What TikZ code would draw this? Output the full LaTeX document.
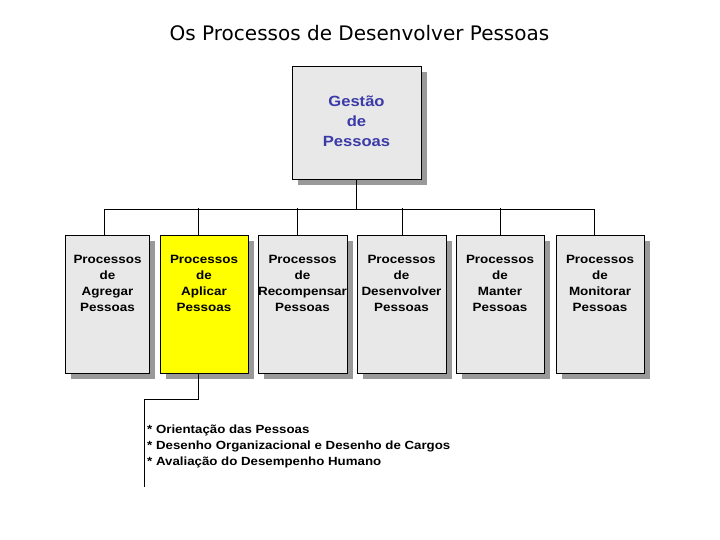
\documentclass[tikz,border=0pt]{standalone}
\usepackage{fontspec}
\setmainfont{Liberation Sans}
\newfontfamily\titlefont{DejaVu Sans}
\newfontfamily\boxfont[FakeStretch=1.12]{Liberation Sans}
\definecolor{boxgray}{HTML}{E8E8E8}
\definecolor{shadowgray}{HTML}{999999}
\definecolor{topblue}{HTML}{3B3BA8}
\definecolor{yel}{HTML}{FFFF00}
\tikzset{
  procbox/.style={draw=black, line width=0.9pt, fill=boxgray, minimum height=138pt, inner sep=0pt},
  shadowbox/.style={fill=shadowgray, draw=none, minimum height=138pt, inner sep=0pt},
  boxtext/.style={font=\boxfont\bfseries\fontsize{12}{16}\selectfont, align=center, anchor=north, inner sep=0pt},
  conn/.style={draw=black, line width=0.9pt},
  listtext/.style={font=\boxfont\bfseries\fontsize{11.85}{16}\selectfont, align=left, anchor=north west, inner sep=0pt}
}
\begin{document}
\begin{tikzpicture}[x=1pt,y=-1pt]
\useasboundingbox (0,0) rectangle (720,540);
% title
\node[font=\titlefont\fontsize{20}{24}\selectfont, inner sep=0pt] (title) at (359.5,33) {Os Processos de Desenvolver Pessoas};
% top box
\node[fill=shadowgray, minimum width=129pt, minimum height=113pt, inner sep=0pt] (topsh) at (362.5,128.5) {};
\node[draw=black, line width=0.9pt, fill=boxgray, minimum width=129pt, minimum height=113pt, inner sep=0pt] (top) at (356.5,122.5) {};
\node[font=\boxfont\bfseries\fontsize{14.8}{20}\selectfont, text=topblue, align=center, inner sep=0pt] (toptext) at (top.center) [yshift=1.5pt] {Gestão\\de\\Pessoas};
% bottom boxes: shadows
\foreach \cx/\w [count=\i] in {107.5/84, 204/88, 302.5/89, 401.5/89, 500/88, 600/88}{
  \node[shadowbox, minimum width=\w pt] (sh\i) at (\cx+5.5,304+5.5) {};
}
\node[procbox, minimum width=84pt] (b1) at (107.5,304) {};
\node[procbox, minimum width=88pt, fill=yel] (b2) at (204,304) {};
\node[procbox, minimum width=89pt] (b3) at (302.5,304) {};
\node[procbox, minimum width=89pt] (b4) at (401.5,304) {};
\node[procbox, minimum width=88pt] (b5) at (500,304) {};
\node[procbox, minimum width=88pt] (b6) at (600,304) {};
% texts
\node[boxtext] (t1) at ([yshift=-20pt]b1.north) {Processos\\de\\Agregar\\Pessoas};
\node[boxtext] (t2) at ([yshift=-20pt]b2.north) {Processos\\de\\Aplicar\\Pessoas};
\node[boxtext] (t3) at ([yshift=-20pt]b3.north) {Processos\\de\\Recompensar\\Pessoas};
\node[boxtext] (t4) at ([yshift=-20pt]b4.north) {Processos\\de\\Desenvolver\\Pessoas};
\node[boxtext] (t5) at ([yshift=-20pt]b5.north) {Processos\\de\\Manter\\Pessoas};
\node[boxtext] (t6) at ([yshift=-20pt]b6.north) {Processos\\de\\Monitorar\\Pessoas};
% connectors
\coordinate (bus) at (356.5,209.3);
\draw[conn] (top.south) -- (bus);
\draw[conn] ([xshift=-3.2pt]b1.north) |- ([xshift=-5.3pt]b6.north |- bus) -- ([xshift=-5.3pt]b6.north);
\draw[conn] ([xshift=-5.3pt]b2.north) -- ++(0,-26.4);
\draw[conn] ([xshift=-4.8pt]b3.north) -- ++(0,-26.4);
\draw[conn] ([xshift=0.5pt]b4.north) -- ++(0,-26.4);
\draw[conn] ([xshift=0.3pt]b5.north) -- ++(0,-26.4);
% lower connector
\coordinate (lowend) at (144.5,487);
\draw[conn] ([xshift=-5.3pt]b2.south) |- (144.5,399) -- (lowend);
% list
\node[listtext] (list) at (147,425) {* Orientação das Pessoas\\* Desenho Organizacional e Desenho de Cargos\\* Avaliação do Desempenho Humano};
\end{tikzpicture}
\end{document}
